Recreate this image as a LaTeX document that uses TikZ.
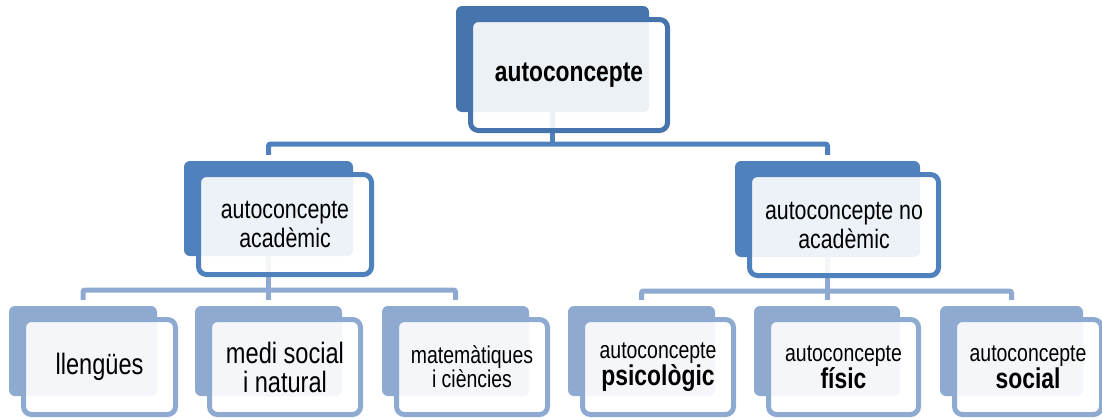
\documentclass[tikz,border=0pt]{standalone}
\usepackage{fontspec}
\newfontfamily\nf[FakeStretch=0.8]{Liberation Sans}
\usetikzlibrary{calc}
\pgfdeclarelayer{background}
\pgfsetlayers{background,main}

\definecolor{lvA}{HTML}{4674AD}
\definecolor{lvB}{HTML}{4F81BD}
\definecolor{lvC}{HTML}{8FAAD1}

\tikzset{
  backcard/.style={rectangle, rounded corners=6pt, fill=#1, draw=none, inner sep=0pt},
  frontcard/.style={rectangle, rounded corners=8pt, draw=#1, line width=5pt,
    fill=white, fill opacity=0.9, text opacity=1, inner sep=0pt, align=center, text=black},
  link/.style={draw=#1, line width=5pt, rounded corners=2pt},
}

% #1 name, #2 left, #3 top, #4 width, #5 height, #6 colour, #7 font, #8 text
% the filled card sits behind, up and to the left of the framed card
\newcommand\card[8]{%
  \node[backcard=#6, minimum width={(#4-9)*1pt}, minimum height={(#5-10)*1pt}]
    (#1b) at ({#2+#4/2-16.5},{#3+#5/2-16}) {};
  \node[frontcard=#6, minimum width={(#4-5)*1pt}, minimum height={(#5-5)*1pt}, font=#7]
    (#1) at ({#2+#4/2},{#3+#5/2}) {#8};
}

\begin{document}
\begin{tikzpicture}[x=1pt,y=-1pt]
\useasboundingbox (0,0) rectangle (1102,418);
\clip (0,0) rectangle (1102,418);

% level 1
\card{top}{468}{17}{202}{116}{lvA}{\nf\bfseries\fontsize{28.5}{30}\selectfont}{autoconcepte}

% level 2
\card{acad}{196}{172}{178}{105}{lvB}{\nf\fontsize{26.7}{29}\selectfont}{autoconcepte\\acadèmic}
\card{noacad}{747}{172}{194}{106}{lvB}{\nf\fontsize{26.7}{29}\selectfont}{autoconcepte no\\acadèmic}

% level 3, academic branch
\card{lleng}{21}{317}{157}{100}{lvC}{\nf\fontsize{29.5}{29}\selectfont}{llengües}
\card{medi}{207}{317}{156}{100}{lvC}{\nf\fontsize{29.5}{29}\selectfont}{medi social\\i natural}
\card{mate}{394}{317}{156}{100}{lvC}{\nf\fontsize{24.3}{24}\selectfont}{matemàtiques\\i ciències}

% level 3, non-academic branch
\card{psico}{580}{317}{156}{100}{lvC}{\nf\fontsize{24.3}{27}\selectfont}{autoconcepte\\{\bfseries\fontsize{28.6}{27}\selectfont psicològic}}
\card{fisic}{766}{317}{155}{100}{lvC}{\nf\fontsize{24.3}{27}\selectfont}{autoconcepte\\{\bfseries\fontsize{28.6}{27}\selectfont físic}}
\card{social}{952}{317}{152}{100}{lvC}{\nf\fontsize{24.3}{27}\selectfont}{autoconcepte\\{\bfseries\fontsize{28.6}{27}\selectfont social}}

\coordinate (busA) at (0,144);
\coordinate (busB) at (0,290);
\coordinate (busC) at (0,291);

\begin{pgfonlayer}{background}
  % level 1 to level 2
  \draw[link=lvB] (topb.south) -- (topb.south |- busA);
  \draw[link=lvB] ($(acadb.north)+(0,-6)$) |- (noacadb.north |- busA) -- ($(noacadb.north)+(0,-6)$);
  % academic branch
  \draw[link=lvC] (acadb.south) -- (acadb.south |- busB);
  \draw[link=lvC] ($(llengb.north)+(0,-6)$) |- (mateb.north |- busB) -- ($(mateb.north)+(0,-6)$);
  \draw[link=lvC] (medib.north |- busB) -- ($(medib.north)+(0,-6)$);
  % non-academic branch
  \draw[link=lvC] (noacadb.south) -- (noacadb.south |- busC);
  \draw[link=lvC] ($(psicob.north)+(0,-6)$) |- (socialb.north |- busC) -- ($(socialb.north)+(0,-6)$);
  \draw[link=lvC] (fisicb.north |- busC) -- ($(fisicb.north)+(0,-6)$);
\end{pgfonlayer}
\end{tikzpicture}
\end{document}
